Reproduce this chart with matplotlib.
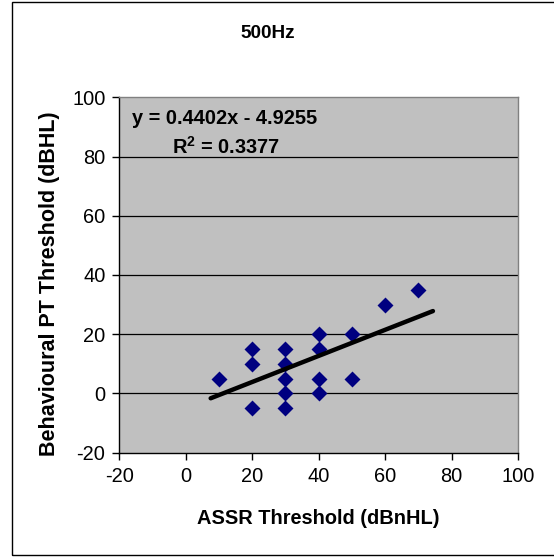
import matplotlib
matplotlib.use("Agg")
import matplotlib.pyplot as plt
from matplotlib.patches import Rectangle
import numpy as np

plt.rcParams['font.family'] = ['Liberation Sans', 'DejaVu Sans']
plt.rcParams['mathtext.fontset'] = 'custom'
plt.rcParams['mathtext.rm'] = 'Liberation Sans:bold'
plt.rcParams['mathtext.bf'] = 'Liberation Sans:bold'
plt.rcParams['axes.unicode_minus'] = False

title = "500Hz"
x_label = "ASSR Threshold (dBnHL)"
y_label = "Behavioural PT Threshold (dBHL)"
assr = [10, 20, 20, 20, 30, 30, 30, 30, 30, 40, 40, 40, 40, 50, 50, 60, 70]
pt = [5, 15, 10, -5, 15, 10, 5, 0, -5, 20, 15, 5, 0, 20, 5, 30, 35]
slope = 0.4402
intercept = -4.9255
r2 = 0.3377
trend_x = [7.5, 74.4]
x_ticks = [-20, 0, 20, 40, 60, 80, 100]
y_ticks = [-20, 0, 20, 40, 60, 80, 100]

FS = 14.4
W, H = 554, 560
fig = plt.figure(figsize=(W / 100, H / 100), dpi=100)
fig.patch.set_facecolor('white')
fig.patches.append(Rectangle((12 / W, 1 - 555 / H), 600 / W, 553 / H,
                             transform=fig.transFigure, fill=False,
                             edgecolor='black', linewidth=1.0))

ax = fig.add_axes([119.3 / W, 1 - 452.7 / H, (518 - 119.3) / W, (452.7 - 97.3) / H])
ax.set_facecolor('#C0C0C0')
ax.set_xlim(-20, 100)
ax.set_ylim(-20, 100)
ax.set_xticks(x_ticks)
ax.set_yticks(y_ticks)
ax.tick_params(direction='out', length=5, width=1, labelsize=FS, colors='black', pad=5)
for y in y_ticks[1:-1]:
    ax.axhline(y, color='black', linewidth=0.9, zorder=1)
for s in ['left', 'bottom']:
    ax.spines[s].set_color('black')
    ax.spines[s].set_linewidth(1.0)
for s in ['right', 'top']:
    ax.spines[s].set_color('#808080')
    ax.spines[s].set_linewidth(1.0)

ax.scatter(assr, pt, marker='D', s=66, color='#000080', zorder=3, linewidths=0)
tx = np.array(trend_x)
ax.plot(tx, slope * tx + intercept, color='black', linewidth=3.2,
        solid_capstyle='round', zorder=4)

ax.text(132 / W, 1 - 118 / H, f"y = {slope}x - {abs(intercept)}", transform=fig.transFigure,
        fontsize=FS, fontweight='bold', va='center', ha='left')
ax.text(172 / W, 1 - 147 / H, r"R$^{2}$ = " + f"{r2}", transform=fig.transFigure,
        fontsize=FS, fontweight='bold', va='center', ha='left')

fig.text(268 / W, 1 - 33 / H, title, fontsize=13.7, fontweight='bold', ha='center', va='center')
fig.text(318 / W, 1 - 519 / H, x_label, fontsize=FS, fontweight='bold', ha='center', va='center')
fig.text(50 / W, 1 - 283.5 / H, y_label, fontsize=15.5, fontweight='bold', ha='center', va='center',
         rotation=90)

fig.savefig('out.png', dpi=100)
